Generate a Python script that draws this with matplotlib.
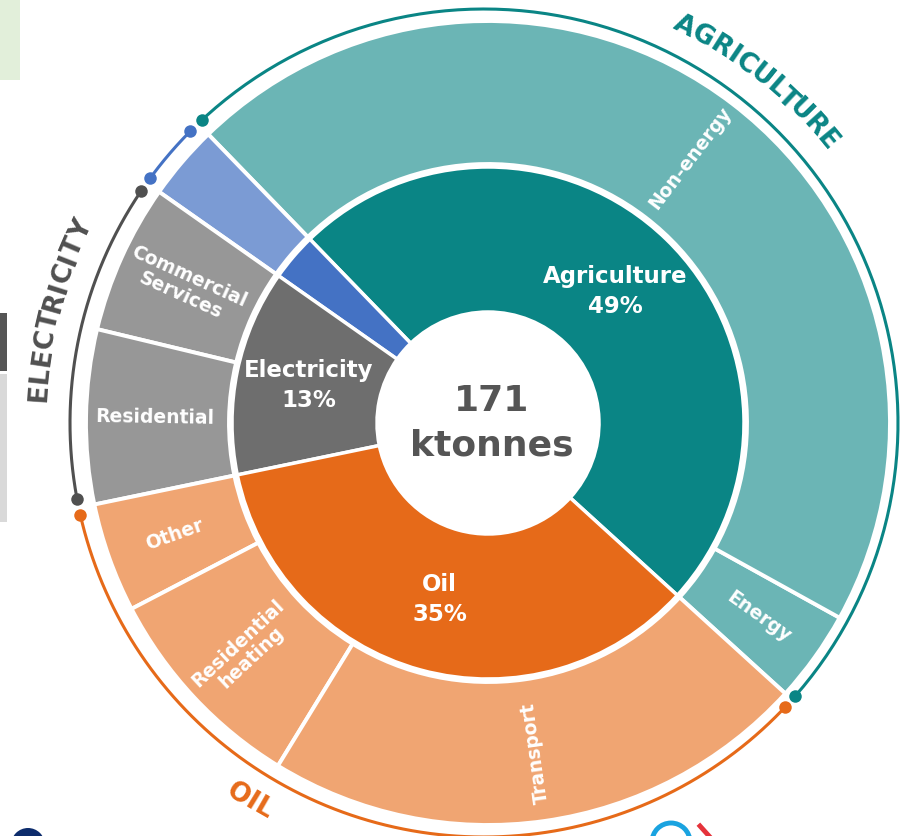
import numpy as np
import matplotlib
matplotlib.use("Agg")
import matplotlib.pyplot as plt
from matplotlib.font_manager import FontProperties
from matplotlib.patches import Rectangle, Circle
from matplotlib.textpath import TextToPath

# inner ring: share of the 171 ktonnes by main source (%)
main_labels = ["Agriculture", "", "Electricity", "Oil"]
main_values = [49, 3, 13, 35]
group_titles = ["AGRICULTURE", "", "ELECTRICITY", "OIL"]

# outer ring: sub sectors, same order as the inner ring (%)
sub_labels = ["Energy", "Non-energy", "", "Commercial\nServices", "Residential",
              "Other", "Residential\nheating", "Transport"]
sub_values = [3.7, 45.3, 3.0, 6.0, 7.0, 4.4, 8.6, 22.0]
sub_group = [0, 0, 1, 2, 2, 3, 3, 3]

total_label = "171\nktonnes"

main_colors = ["#0a8585", "#4472c4", "#6e6e6e", "#e66a19"]
sub_colors = ["#6bb5b5", "#7b9bd4", "#979797", "#f0a572"]
arc_colors = ["#0a8585", "#4472c4", "#505050", "#e66a19"]

# layout (pixels, figure is 915x836)
CX, CY = 488, 413
START = -42.3
R_HOLE, R_IN, R_OUT0, R_OUT, R_ARC = 111, 256, 259, 402, 414
ARC_DX = -4  # the outer guide arcs sit a little left of the rings

fig = plt.figure(figsize=(9.15, 8.36), dpi=100)
ax = fig.add_axes([0, 0, 1, 1])

ax.pie(main_values, colors=main_colors, radius=R_IN, center=(CX, CY),
       startangle=START, counterclock=True,
       wedgeprops=dict(width=R_IN - R_HOLE, edgecolor="white", linewidth=2.5))
ax.pie(sub_values, colors=[sub_colors[g] for g in sub_group], radius=R_OUT,
       center=(CX, CY), startangle=START, counterclock=True,
       wedgeprops=dict(width=R_OUT - R_OUT0, edgecolor="white", linewidth=2.8))


def polar(r, th, dx=0):
    return CX + dx + r * np.cos(np.radians(th)), CY + r * np.sin(np.radians(th))


# inner labels and outer arcs with end dots
cum = START
for lab, v, col in zip(main_labels, main_values, arc_colors):
    th0, th1 = cum, cum + 360 * v / 100
    cum = th1
    t = np.linspace(th0 + 1.1, th1 - 1.1, 200)
    xs, ys = polar(R_ARC, t, ARC_DX)
    ax.plot(xs, ys, color=col, lw=2.2, solid_capstyle="butt")
    ax.plot([xs[0], xs[-1]], [ys[0], ys[-1]], "o", color=col, ms=9, mec="none")
    if lab:
        x, y = polar(183, (th0 + th1) / 2)
        ax.text(x, y, "{}\n{}%".format(lab, v), color="white", fontsize=16.5,
                fontweight="bold", ha="center", va="center", linespacing=1.4)

# outer labels, written along the radius
cum = START
for lab, v in zip(sub_labels, sub_values):
    th = cum + 180 * v / 100
    cum += 360 * v / 100
    if not lab:
        continue
    rot = th - 180 if th > 90 else th
    x, y = polar(333, th)
    ax.text(x, y, lab, color="white", fontsize=13.5, fontweight="bold",
            rotation=rot, rotation_mode="anchor", ha="center", va="center",
            linespacing=1.05)

ax.text(CX + 4, CY, total_label, color="#555555", fontsize=26, fontweight="bold",
        ha="center", va="center", linespacing=1.4)

# group names bent along the outer arc
t2p = TextToPath()


def arc_text(s, mid, r, color, clockwise=True, size=19, track=0.0):
    fp = FontProperties(family="DejaVu Sans", weight="bold", size=size)
    w = [0] + [t2p.get_text_width_height_descent(s[:i + 1], fp, False)[0] * 100 / 72
               for i in range(len(s))]
    centers = [(w[i] + w[i + 1]) / 2 + track * i for i in range(len(s))]
    total = w[-1] + track * (len(s) - 1)
    sign = -1 if clockwise else 1
    for ch, c in zip(s, centers):
        th = mid + sign * np.degrees((c - total / 2) / r)
        x, y = polar(r, th, ARC_DX)
        rot = th - 90 if clockwise else th + 90
        ax.text(x, y, ch, color=color, fontproperties=fp, rotation=rot,
                rotation_mode="anchor", ha="center", va="center")


arc_text(group_titles[0], 51.4, 444, arc_colors[0], clockwise=True)
arc_text(group_titles[2], 165.2, 446, arc_colors[2], clockwise=True)
arc_text(group_titles[3], 238.2, 445, arc_colors[3], clockwise=False)

# bits of the neighbouring page that show at the edges
ax.add_patch(Rectangle((0, 756), 20, 80, color="#e2efda", lw=0))
ax.add_patch(Rectangle((0, 465), 7, 58, color="#555555", lw=0))
ax.add_patch(Rectangle((0, 314), 7, 148, color="#d9d9d9", lw=0))
ax.add_patch(Circle((28, -9), 17, color="#0d2c6c", lw=0))
ax.add_patch(Circle((671, -6), 19, fill=False, ec="#1aa3e0", lw=3.5))
ax.plot([700, 709], [10, 0], color="#e5333b", lw=3.5)

ax.set_xlim(0, 915)
ax.set_ylim(0, 836)
ax.set_aspect("equal")
ax.axis("off")
fig.savefig("out.png", dpi=100)
